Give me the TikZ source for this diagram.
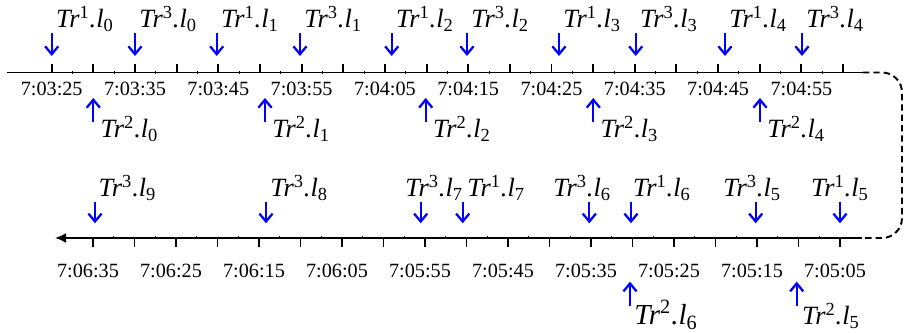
\documentclass[tikz,border=0pt]{standalone}
\usepackage{fontspec}
\setmainfont{Liberation Serif}
\usetikzlibrary{arrows.meta}
\newcommand{\trl}[2]{\textit{Tr}\textsuperscript{#1}\textit{.l}\textsubscript{#2}}

\begin{document}
\begin{tikzpicture}[x=0.02cm,y=0.02cm,
  axis/.style={line width=1.1pt},
  evt/.style={blue,line width=1.3pt,-{Straight Barb[length=4.5pt,width=7.5pt]}},
  lbl/.style={inner sep=0pt,anchor=base west,font=\fontsize{15}{18}\selectfont},
  tlbl/.style={inner sep=0pt,anchor=base,font=\fontsize{11.5}{13}\selectfont}]
\useasboundingbox (0,0) rectangle (904,333);
\coordinate (TL) at (7,260.5);\coordinate (TR) at (863,260.5);
\coordinate (BR) at (862,95);\coordinate (BL) at (55,95);\coordinate (E) at (902,178);
% the two time lines and the turn between them
\draw[axis] (TL)--(TR);
\draw[axis,-{Latex[length=6.3pt,width=5.7pt]}] (BR)--(BL);
\draw[axis,dash pattern=on 3.6pt off 2.3pt,rounded corners=0.4cm] (TR)-|(E)|-(BR);
% ticks
\foreach \i in {0,...,19} \draw[axis] (51.7+41.65*\i,260.5)--++(0,8);
\foreach \i in {0,...,18} \draw[line width=0.5pt] (72.5+41.65*\i,259)--++(0,3);
\foreach \i in {0,...,18} \draw[axis] (840-41.5*\i,95)--++(0,-9);
\foreach \i in {0,...,17} \draw[line width=0.5pt] (819.25-41.5*\i,96.5)--++(0,-3);
% clock times
\foreach \s [count=\k from 0] in {7:03:25,7:03:35,7:03:45,7:03:55,7:04:05,7:04:15,7:04:25,7:04:35,7:04:45,7:04:55}
  \node[tlbl] (tt\k) at (51.7+83.3*\k,237.5) {\s};
\foreach \s [count=\k from 0] in {7:05:05,7:05:15,7:05:25,7:05:35,7:05:45,7:05:55,7:06:05,7:06:15,7:06:25,7:06:35}
  \node[tlbl] (bt\k) at (835-83*\k,55) {\s};
% Tr1 and Tr3 on the first line
\foreach \x/\r/\n in {51.7/1/0,135/3/0,216.7/1/1,300/3/1,391.7/1/2,467/3/2,559/1/3,635.7/3/3,725/1/4,802/3/4}{
  \coordinate (s\r\n) at (\x,300);\coordinate (e\r\n) at (\x,277);
  \draw[evt] (s\r\n)--(e\r\n);
  \node[lbl] (l\r\n) at (\x+4,305) {\trl{\r}{\n}};
}
% Tr2 on the first line
\foreach \x/\n in {93.3/0,265/1,425.7/2,593.3/3,760/4}{
  \coordinate (s2\n) at (\x,211);\coordinate (e2\n) at (\x,235);
  \draw[evt] (s2\n)--(e2\n);
  \node[lbl] (l2\n) at (\x+7,195) {\trl{2}{\n}};
}
% Tr1 and Tr3 on the way back
\foreach \x/\lx/\r/\n in {840/810.7/1/5,755.7/723/3/5,631/632.7/1/6,589.3/553/3/6,462.7/467/1/7,420.7/405/3/7,266/270/3/8,95/98.3/3/9}{
  \coordinate (s\r\n) at (\x,131.3);\coordinate (e\r\n) at (\x,109.7);
  \draw[evt] (s\r\n)--(e\r\n);
  \node[lbl] (l\r\n) at (\lx,136.3) {\trl{\r}{\n}};
}
% Tr2 on the way back
\foreach \x/\lx/\n/\fs in {630/634/6/16.5,796.7/801.7/5/15}{
  \coordinate (s2\n) at (\x,27.3);\coordinate (e2\n) at (\x,51.3);
  \draw[evt] (s2\n)--(e2\n);
  \node[lbl,font=\fontsize{\fs}{18}\selectfont] (l2\n) at (\lx,8) {\trl{2}{\n}};
}
\end{tikzpicture}
\end{document}
